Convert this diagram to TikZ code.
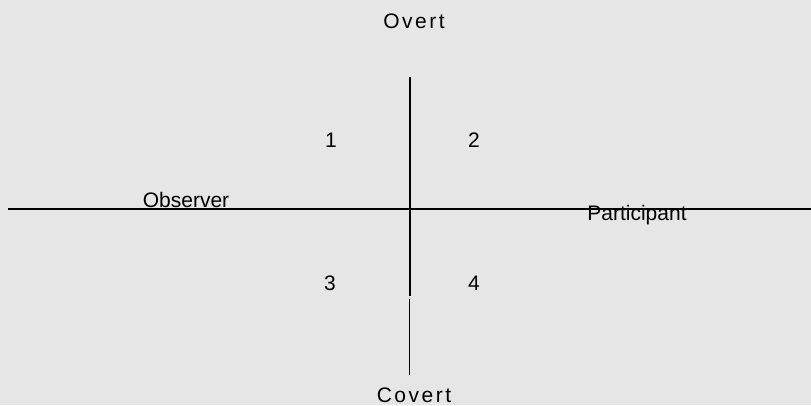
\documentclass[tikz,border=0pt]{standalone}
\usepackage{fontspec}
\setmainfont{Liberation Sans}
\newfontfamily\spacedfont[LetterSpace=12]{Liberation Sans}
\usetikzlibrary{positioning}
\definecolor{qbg}{HTML}{E6E6E6}

\begin{document}
\begin{tikzpicture}[x=1pt,y=-1pt,
 lbl/.style={inner sep=0pt,font=\fontsize{21}{25}\selectfont},
 axis/.style={black,line width=2pt}]
\fill[qbg](0,0)rectangle(811,405);
\useasboundingbox(0,0)rectangle(811,405);
\node[lbl,font=\spacedfont\fontsize{21}{25}\selectfont](overt)at(414,21){Overt};
\node[lbl,font=\spacedfont\fontsize{21}{25}\selectfont](covert)at(414,395){Covert};
\node[lbl](obs)at(186,200){Observer};
\node[lbl](part)at(637,215.5){Participant};
\node[lbl](q1)at(331,140){1};
\node[lbl](q2)at(474,140){2};
\node[lbl](q3)at(330,283){3};
\node[lbl](q4)at(474,283){4};
\coordinate(west)at(8,209);
\coordinate(east)at(811,209);
\coordinate(top)at(410,77);
\coordinate(mid)at(410,296);
\coordinate(gap)at(409,299);
\coordinate(bottom)at(409,375);
\draw[axis](west)--(east);
\draw[axis](top)--(mid);
\draw[black,line width=0.8pt](gap)--(bottom);
\end{tikzpicture}
\end{document}
